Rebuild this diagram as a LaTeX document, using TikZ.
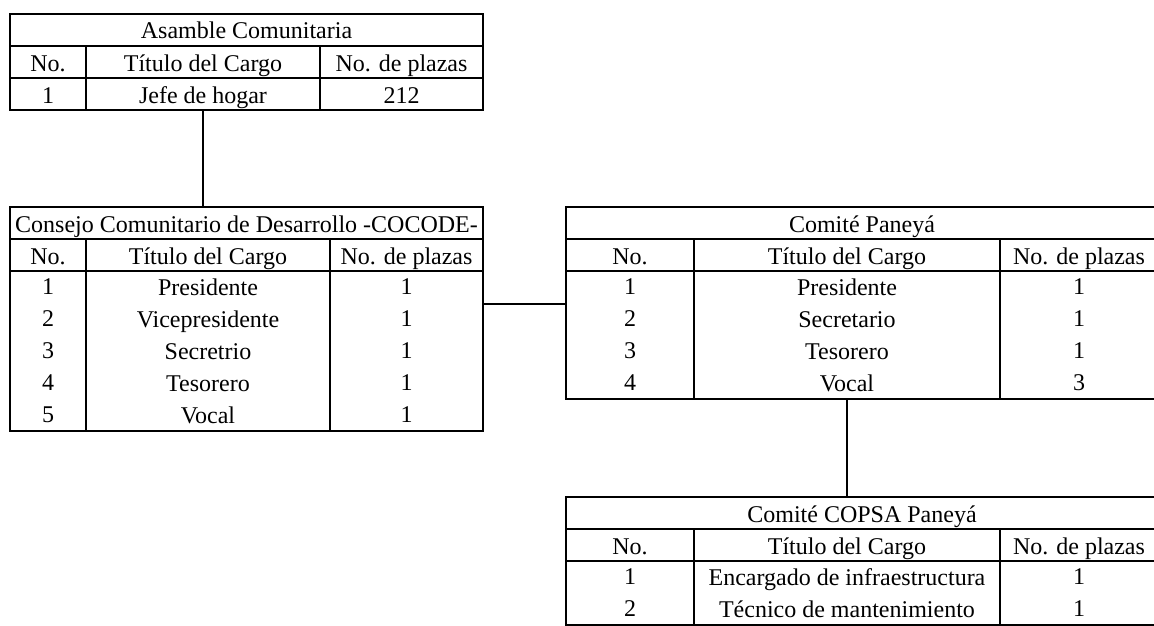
\documentclass[tikz,border=0pt]{standalone}
\usepackage{fontspec}
\setmainfont{Liberation Serif}
\usetikzlibrary{positioning}

\begin{document}
\begin{tikzpicture}[
  x=1pt, y=-1pt,
  font=\fontsize{24}{32}\selectfont,
  cell/.style={draw, line width=2pt, anchor=north west, inner sep=0pt, outer sep=0pt,
    minimum height=32pt, text height=18pt, text depth=0pt},
  column/.style={draw, line width=2pt, anchor=north west, inner sep=0pt, outer sep=0pt,
    align=center, execute at begin node=\rule{0pt}{22pt}},
  link/.style={line width=2pt}
]
\useasboundingbox (0,0) rectangle (1154,626);
\clip (0,0) rectangle (1154,626);
\fill[white] (0,0) rectangle (1154,626);

% Asamble Comunitaria
\node[cell, minimum width=473pt] (A) at (10,14) {Asamble Comunitaria};
\node[cell, minimum width=76pt] (A-no) at (A.south west) {No.};
\node[cell, minimum width=234pt] (A-ti) at (A-no.north east) {Título del Cargo};
\node[cell, minimum width=163pt] (A-pl) at (A-ti.north east) {No. de plazas};
\node[cell, minimum width=76pt] (A1) at (A-no.south west) {1};
\node[cell, minimum width=234pt] (A2) at (A-ti.south west) {Jefe de hogar};
\node[cell, minimum width=163pt] (A3) at (A-pl.south west) {212};

% COCODE
\node[cell, minimum width=473pt] (B) at (10,207) {Consejo Comunitario de Desarrollo -COCODE-};
\node[cell, minimum width=76pt] (B-no) at (B.south west) {No.};
\node[cell, minimum width=244pt] (B-ti) at (B-no.north east) {Título del Cargo};
\node[cell, minimum width=153pt] (B-pl) at (B-ti.north east) {No. de plazas};
\node[column, minimum width=76pt, minimum height=160pt] (B1) at (B-no.south west)
  {1\\2\\3\\4\\5};
\node[column, minimum width=244pt, minimum height=160pt] (B2) at (B-ti.south west)
  {Presidente\\Vicepresidente\\Secretrio\\Tesorero\\Vocal};
\node[column, minimum width=153pt, minimum height=160pt] (B3) at (B-pl.south west)
  {1\\1\\1\\1\\1};

% Comite Paneya
\node[cell, minimum width=592pt] (C) at (566,207) {Comité Paneyá};
\node[cell, minimum width=128pt] (C-no) at (C.south west) {No.};
\node[cell, minimum width=306pt] (C-ti) at (C-no.north east) {Título del Cargo};
\node[cell, minimum width=158pt] (C-pl) at (C-ti.north east) {No. de plazas};
\node[column, minimum width=128pt, minimum height=128pt] (C1) at (C-no.south west)
  {1\\2\\3\\4};
\node[column, minimum width=306pt, minimum height=128pt] (C2) at (C-ti.south west)
  {Presidente\\Secretario\\Tesorero\\Vocal};
\node[column, minimum width=158pt, minimum height=128pt] (C3) at (C-pl.south west)
  {1\\1\\1\\3};

% Comite COPSA Paneya
\node[cell, minimum width=592pt] (D) at (566,497) {Comité COPSA Paneyá};
\node[cell, minimum width=128pt] (D-no) at (D.south west) {No.};
\node[cell, minimum width=306pt] (D-ti) at (D-no.north east) {Título del Cargo};
\node[cell, minimum width=158pt] (D-pl) at (D-ti.north east) {No. de plazas};
\node[column, minimum width=128pt, minimum height=64pt] (D1) at (D-no.south west)
  {1\\2};
\node[column, minimum width=306pt, minimum height=64pt] (D2) at (D-ti.south west)
  {Encargado de infraestructura\\Técnico de mantenimiento};
\node[column, minimum width=158pt, minimum height=64pt] (D3) at (D-pl.south west)
  {1\\1};

% connectors
\draw[link] (A2.south) -- (A2.south |- B.north);
\draw[link] ([yshift=-33pt]B3.north east) -- ([yshift=-33pt]C1.north west);
\draw[link] (C2.south) -- (C2.south |- D.north);

\end{tikzpicture}
\end{document}
